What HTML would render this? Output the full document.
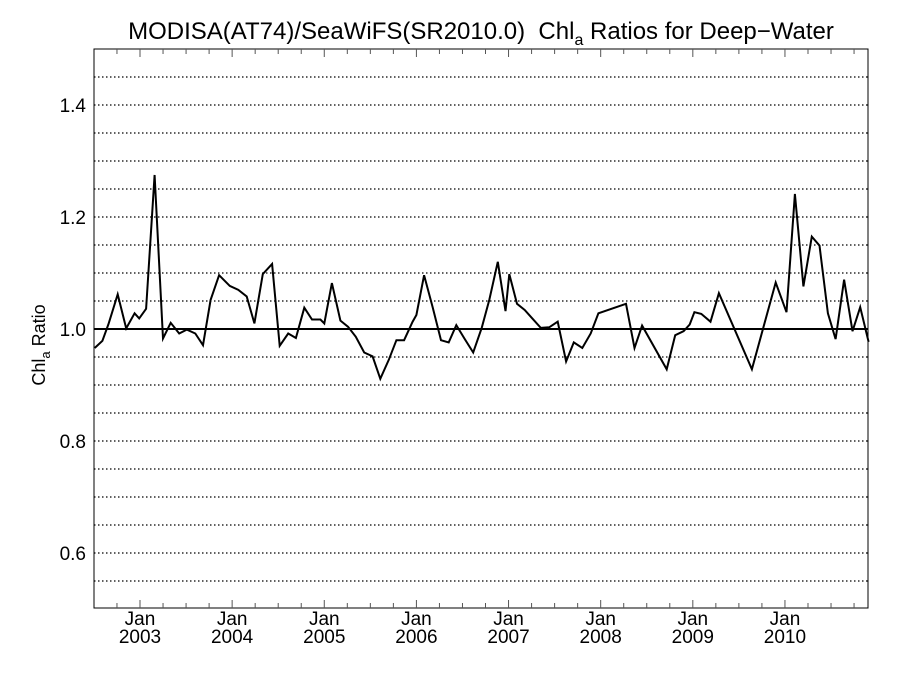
<!DOCTYPE html>
<html><head><meta charset="utf-8"><style>
body{margin:0;background:#fff}
svg{display:block;font-family:"Liberation Sans",sans-serif}
</style></head><body>
<svg id="chart" width="900" height="675" viewBox="0 0 900 675" xmlns="http://www.w3.org/2000/svg">
<text x="481" y="39" text-anchor="middle" font-size="24" xml:space="preserve">MODISA(AT74)/SeaWiFS(SR2010.0)&#160; Chl<tspan font-size="16" dy="6">a</tspan><tspan dy="-6"> Ratios for Deep−Water</tspan></text>
<text transform="translate(45,345) rotate(-90)" text-anchor="middle" font-size="18">Chl<tspan font-size="13" dy="5">a</tspan><tspan dy="-5"> Ratio</tspan></text>
<g id="grid"></g><g id="axes"></g><g id="series"></g>
</svg>
<script>
const months=[6.1,7.1,7.9,9.1,10.2,11.3,11.9,12.8,13.9,15.0,16.0,17.1,18.1,19.2,20.2,21.2,22.3,23.7,24.8,25.9,26.9,28.0,29.2,30.2,31.3,32.3,33.4,34.4,35.5,36.0,37.0,38.1,39.1,40.1,41.2,42.3,43.3,44.4,45.4,46.4,47.5,48.0,49.0,50.1,51.2,52.2,53.2,54.3,55.4,56.5,57.5,58.6,59.6,60.1,61.1,62.1,63.1,64.2,65.3,66.4,67.5,68.5,69.6,70.7,71.7,75.3,76.4,77.4,80.6,81.7,82.8,83.6,84.2,85.1,86.3,87.4,91.7,94.8,96.2,97.3,98.4,99.5,100.5,101.6,102.6,103.7,104.8,105.8,106.9];
const ratios=[.966,.979,1.009,1.062,1.001,1.028,1.019,1.036,1.275,.983,1.011,.992,.999,.992,.971,1.052,1.096,1.077,1.070,1.058,1.010,1.098,1.116,.970,.992,.984,1.038,1.017,1.017,1.010,1.082,1.015,1.004,.986,.958,.951,.911,.945,.980,.980,1.013,1.025,1.096,1.040,.980,.976,1.007,.982,.958,1.002,1.052,1.120,1.032,1.098,1.045,1.034,1.019,1.002,1.003,1.013,.942,.976,.966,.992,1.028,1.045,.966,1.006,.928,.989,.996,1.008,1.030,1.027,1.013,1.064,.928,1.083,1.030,1.241,1.076,1.165,1.149,1.028,.982,1.088,.996,1.039,.977];
const yTicks=[0.6,0.8,1.0,1.2,1.4];
const yTickLabels=["0.6","0.8","1.0","1.2","1.4"];
const yearLabels=["2003","2004","2005","2006","2007","2008","2009","2010"];
const L=94,R=868,T=49,B=608;
const x=m=>140+(m-12)*7.678;
const y=v=>329-(v-1)*560;
const NS="http://www.w3.org/2000/svg";
function mk(tag,attrs,parent,txt){const e=document.createElementNS(NS,tag);for(const k in attrs)e.setAttribute(k,attrs[k]);if(txt!==undefined)e.textContent=txt;parent.appendChild(e);return e;}
const grid=document.getElementById('grid'),axes=document.getElementById('axes'),series=document.getElementById('series');
for(let v=0.55;v<1.5;v+=0.05){
  const vv=Math.round(v*100)/100;
  if(Math.abs(vv-1)<1e-6)continue;
  const g=mk('line',{x1:L,x2:R,y1:y(vv),y2:y(vv),stroke:'#000','stroke-width':1.2,'stroke-dasharray':'1.5 2.5'},grid);
  
  
}
const ref=mk('line',{x1:L,x2:R,y1:y(1),y2:y(1),stroke:'#000','stroke-width':2},grid);


const box=mk('rect',{x:L,y:T,width:R-L,height:B-T,fill:'none',stroke:'#000','stroke-width':1},axes);


yTicks.forEach((v,i)=>{
  const t=mk('text',{x:86,y:y(v)+7,'text-anchor':'end','font-size':19},axes,yTickLabels[i]);
  
  
});
for(let m=9;m<=106;m+=3){
  const major=(m%12===0);const len=major?8:5;
  mk('line',{x1:x(m),x2:x(m),y1:B,y2:B-len,stroke:'#555','stroke-width':1},axes);
  mk('line',{x1:x(m),x2:x(m),y1:T,y2:T+len,stroke:'#555','stroke-width':1},axes);
}
yearLabels.forEach((lab,i)=>{
  const m=12*(i+1);
  const a=mk('text',{x:x(m),y:625,'text-anchor':'middle','font-size':19},axes,'Jan');
  
  
  const b=mk('text',{x:x(m),y:643,'text-anchor':'middle','font-size':19},axes,lab);
  
  
});
const pts=months.map((m,i)=>x(m).toFixed(1)+','+y(ratios[i]).toFixed(1)).join(' ');
const pl=mk('polyline',{points:pts,fill:'none',stroke:'#000','stroke-width':2,'stroke-linejoin':'miter'},series);


</script>
</body></html>
